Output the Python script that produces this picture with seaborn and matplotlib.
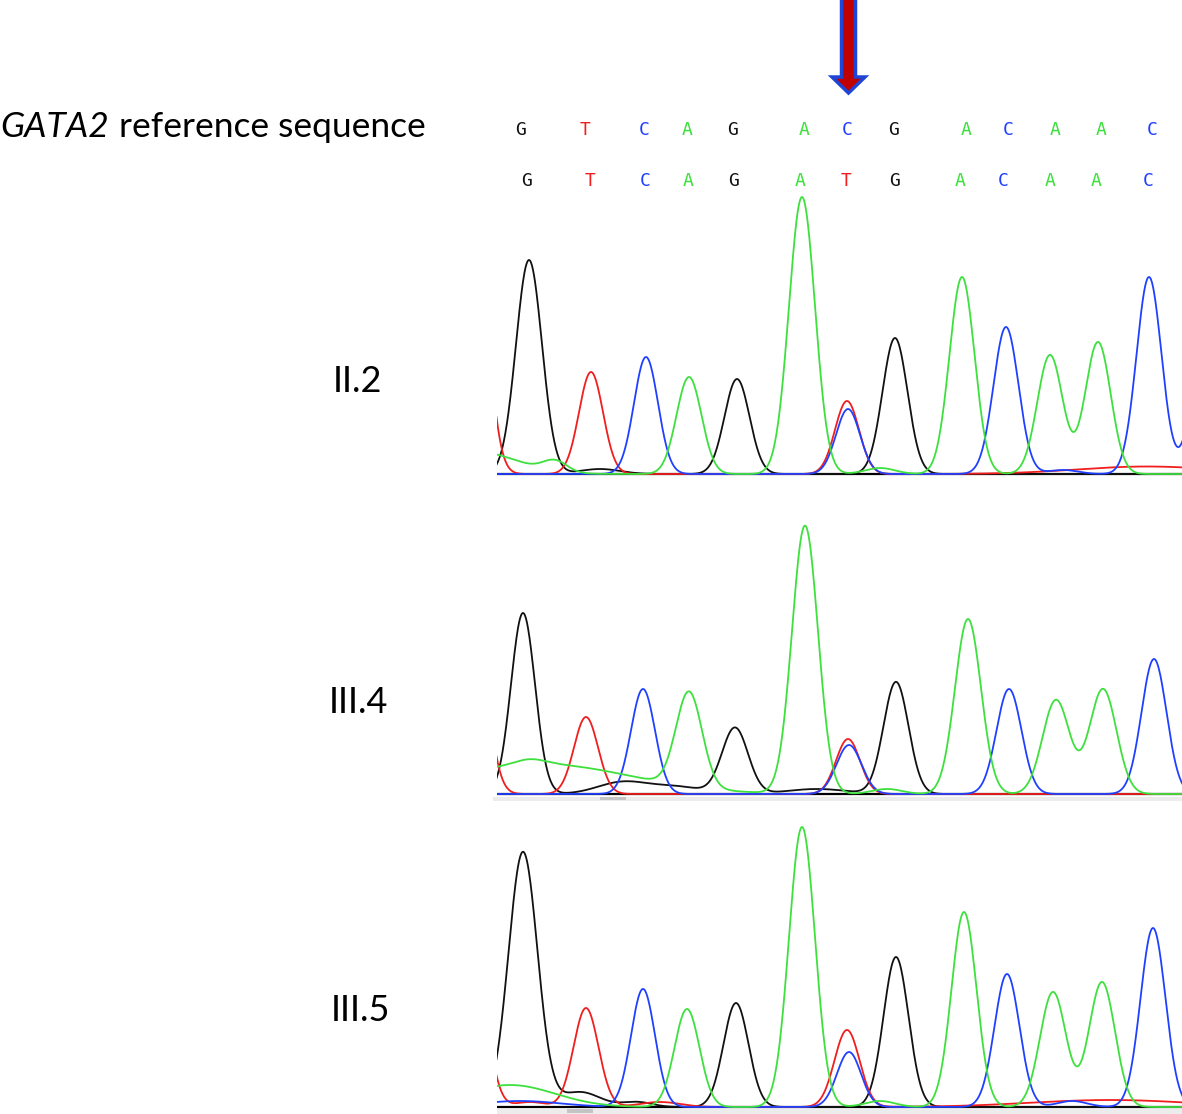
import numpy as np
import pandas as pd
import matplotlib
matplotlib.use("Agg")
import matplotlib.pyplot as plt
from matplotlib.patches import FancyArrow, Rectangle
import seaborn as sns

# ---------------- data ----------------
ref_seq = list("GTCAGACGACAAC")
sample_seq = list("GTCAGATGACAAC")
sample_names = ["II.2", "III.4", "III.5"]

# peak tables per sample: base channel, scan position, peak height (signal), peak width (sigma, scans)
p1_base = ["G", "G", "G", "G", "T", "T", "T", "T", "C", "C", "C", "C", "C", "C",
           "A", "A", "A", "A", "A", "A", "A", "A"]
p1_pos = [32, 240, 398, 103, 94, 350, -22, 650, 149, 351, 509, 652, 708, 566,
          192, 305, 465, 553, 601, -20, 58, 383]
p1_height = [214, 95, 136, 5, 102, 73, 250, 7.5, 117, 65, 147, 197, 140, 4,
             97, 277, 197, 119, 132, 22, 11, 6]
p1_width = [13, 12.5, 12.5, 20, 12, 12, 12.5, 70, 12, 12, 12.5, 12.5, 12.5, 15,
            12.5, 13, 12.5, 12.7, 12.7, 40, 12, 15]

p2_base = ["G", "G", "G", "G", "G", "G", "T", "T", "T", "C", "C", "C", "C",
           "A", "A", "A", "A", "A", "A", "A", "A"]
p2_pos = [26, 238, 399, 126, 180, 320, 89, 351, -22, 146, 352, 512, 657,
          192, 308, 471, 559, 606, 43, 33, 390]
p2_height = [181, 66, 112, 12, 7, 5, 77, 55, 165, 105, 49, 105, 135,
             95, 268, 175, 94, 105, 30, 5, 5]
p2_width = [12, 13, 12.5, 25, 25, 30, 12, 12, 12.5, 12, 12.5, 12.5, 12.5,
            13, 13, 13, 13.5, 13.5, 90, 15, 15]

p3_base = ["G", "G", "G", "G", "G", "T", "T", "T", "T", "T", "T", "C", "C", "C", "C", "C", "C",
           "A", "A", "A", "A", "A", "A", "A"]
p3_pos = [26, 239, 399, 83, 140, 89, 350, -22, 33, 163, 613, 146, 352, 510, 656, 23, 575,
          190, 305, 467, 556, 605, 13, 383]
p3_height = [255, 104, 150, 15, 5, 99, 77, 137, 5, 5, 7, 118, 55, 133, 179, 6, 6,
             98, 280, 195, 115, 125, 22, 6]
p3_width = [14.5, 12.5, 12.5, 20, 15, 12.5, 12.5, 12.5, 15, 20, 80, 12, 12, 12.5, 12.5, 40, 15,
            12.5, 13, 12.5, 13, 13, 45, 15]

peak_tables = [
    (p1_base, p1_pos, p1_height, p1_width),
    (p2_base, p2_pos, p2_height, p2_width),
    (p3_base, p3_pos, p3_height, p3_width),
]

base_colors = {"G": "#111111", "T": "#f01e1e", "C": "#2040ff", "A": "#3ee03e"}

# ---------------- layout ----------------
W, H = 1182, 1114
fig = plt.figure(figsize=(W / 100, H / 100), dpi=100)

def px_axes(x0, y0, x1, y1):
    return fig.add_axes([x0 / W, 1 - y1 / H, (x1 - x0) / W, (y1 - y0) / H])

overlay = px_axes(0, 0, W, H)
overlay.set_xlim(0, W)
overlay.set_ylim(H, 0)
overlay.axis("off")

# chromatogram panels
scan = np.arange(-5, 690, 0.5)
panel_base_y = [474, 794, 1107]
panel_x0, panel_x1 = 497, 1182
top_room = 290

for i, (bases, pos, hts, wds) in enumerate(peak_tables):
    by = panel_base_y[i]
    ax = px_axes(panel_x0, by - top_room, panel_x1, by + 4)
    rows = []
    for b in ["G", "T", "C", "A"]:
        sig = np.zeros_like(scan)
        for bb, p, h, w in zip(bases, pos, hts, wds):
            if bb == b:
                sig = sig + h * np.exp(-0.5 * ((scan - p) / w) ** 2)
        rows.append(pd.DataFrame({"scan": scan, "signal": sig, "base": b}))
    df = pd.concat(rows, ignore_index=True)
    ax.plot([0, 685], [0, 0], color="black", lw=1.6, zorder=1, solid_capstyle="butt")
    sns.lineplot(data=df, x="scan", y="signal", hue="base", hue_order=["G", "T", "C", "A"],
                 palette=base_colors, estimator=None, sort=False, lw=1.3,
                 legend=False, ax=ax, zorder=2)
    ax.set_xlim(0, 685)
    ax.set_ylim(-4, top_room)
    ax.axis("off")

# scrollbar strips under panels 2 and 3
overlay.add_patch(Rectangle((493, 797), 689, 4, color="#ececec", lw=0))
overlay.add_patch(Rectangle((600, 797), 26, 3, color="#c4c4c4", lw=0))
overlay.add_patch(Rectangle((497, 1109), 685, 5, color="#ececec", lw=0))
overlay.add_patch(Rectangle((567, 1109), 26, 4, color="#c4c4c4", lw=0))

# base calls
ref_x = [521, 585, 644, 687, 733, 804, 847, 894, 966, 1008, 1055, 1101, 1152]
samp_x = [527, 590, 645, 688, 734, 800, 846, 895, 960, 1003, 1050, 1096, 1148]
for s, x in zip(ref_seq, ref_x):
    overlay.text(x, 135, s, color=base_colors[s], fontsize=13, family="DejaVu Sans Mono",
                 ha="center", va="baseline")
for s, x in zip(sample_seq, samp_x):
    overlay.text(x, 185.5, s, color=base_colors[s], fontsize=13, family="DejaVu Sans Mono",
                 ha="center", va="baseline")

# title
renderer = fig.canvas.get_renderer()
t1 = overlay.text(0, 137, "GATA2", fontsize=25.5, family="Lato", style="italic",
                  ha="left", va="baseline", color="black")
bb = t1.get_window_extent(renderer)
overlay.text(bb.x1 + 10, 137, "reference sequence", fontsize=25.5, family="Lato",
             ha="left", va="baseline", color="black")

# sample labels
label_pos = [(357, 392), (358, 713), (361, 1021)]
for name, (x, y) in zip(sample_names, label_pos):
    overlay.text(x, y, name, fontsize=26, family="Lato", ha="center", va="baseline",
                 color="black")

# arrow
overlay.add_patch(FancyArrow(848.5, -2, 0, 95, width=14, head_width=33, head_length=16,
                             length_includes_head=True, fc="#c00000", ec="#1f45d6", lw=2.5))

fig.savefig("out.png", dpi=100)
